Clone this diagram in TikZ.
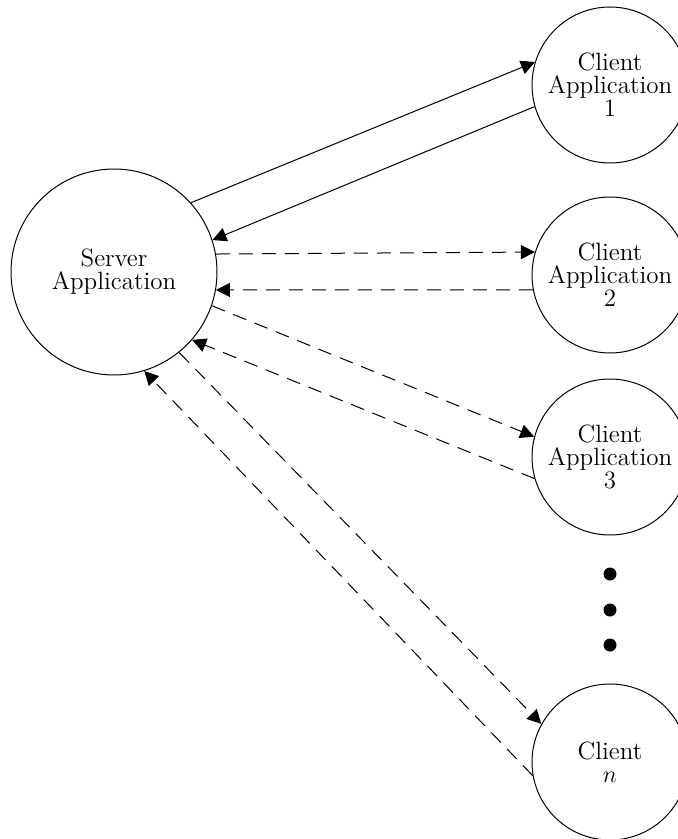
\documentclass[tikz,border=0pt]{standalone}
\usetikzlibrary{arrows.meta}

\begin{document}
\begin{tikzpicture}[x=0.5pt, y=-0.5pt, >={Triangle[length=7pt, width=7pt]},
    font=\fontsize{12.5}{11.5}\selectfont]
  \tikzstyle{app} = [draw, circle, line width=0.5pt, inner sep=0pt, align=center]
  \tikzstyle{srv} = [app, minimum size=103pt]
  \tikzstyle{cli} = [app, minimum size=78pt]
  \tikzstyle{link} = [->, line width=0.5pt]
  \tikzstyle{dlink} = [link, dash pattern=on 7pt off 4.5pt]
  \tikzstyle{dot} = [fill, circle, inner sep=0pt, minimum size=6.5pt]

  \useasboundingbox (0,0) rectangle (678,839);

  \node[srv] (server) at (114,272) {Server\\Application};
  \node[cli] (c1) at (610,85)  {Client\\Application\\1};
  \node[cli] (c2) at (610,275) {Client\\Application\\2};
  \node[cli] (c3) at (610,457) {Client\\Application\\3};
  \node[cli] (cn) at (610,762) {Client\\$n$};

  % dots between client 3 and client n
  \node[dot] (d1) at (610,574) {};
  \node[dot] (d2) at (610,610) {};
  \node[dot] (d3) at (610,645) {};

  % solid link to client 1
  \draw[link] (server.42) -- (c1.163);
  \draw[link] (c1.196) -- (server.18);

  % dashed links
  \draw[dlink] (server.10) -- (c2.163);
  \draw[dlink] (c2.191) -- (server.-10);
  \draw[dlink] (server.-19) -- (c3.165);
  \draw[dlink] (c3.196) -- (server.-41);
  \draw[dlink] (server.-51) -- (cn.151);
  \draw[dlink] (cn.190) -- (server.-73);
\end{tikzpicture}
\end{document}
